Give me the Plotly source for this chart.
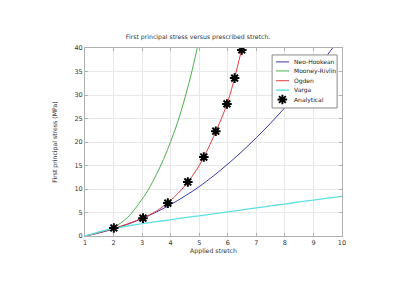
import plotly.graph_objects as go

# Stretch values for model curves
stretch = [1, 1.5, 2, 2.5, 3, 3.5, 4, 4.5, 5, 5.5, 6, 6.5, 7, 7.5, 8, 8.5, 9, 9.5, 10]
neo_hookean = [0, 0.66, 1.5, 2.5, 3.7, 5.1, 6.7, 8.5, 10.5, 12.8, 15.3, 18.0, 20.9, 24.0, 27.3, 30.8, 34.6, 38.6, 42.8]
varga = [0, 0.9, 1.6, 2.15, 2.65, 3.05, 3.45, 3.9, 4.3, 4.7, 5.15, 5.55, 6.0, 6.4, 6.8, 7.25, 7.65, 8.05, 8.5]

mr_stretch = [1, 1.5, 2, 2.5, 3, 3.25, 3.5, 3.75, 4, 4.25, 4.5, 4.75, 5]
mooney_rivlin = [0, 0.8, 1.85, 4.0, 7.85, 10.2, 13.1, 16.3, 20.1, 24.3, 29.4, 35.2, 42.0]

og_stretch = [1, 1.5, 2, 2.5, 3, 3.5, 4, 4.5, 5, 5.5, 6, 6.5, 6.7]
ogden = [0, 0.7, 1.6, 2.6, 3.8, 5.3, 7.6, 10.7, 15.0, 21.1, 28.6, 40.0, 45.0]

an_stretch = [2.01, 3.03, 3.9, 4.6, 5.16, 5.58, 5.97, 6.24, 6.49]
analytical = [1.7, 3.8, 7.0, 11.5, 16.8, 22.3, 28.1, 33.6, 39.6]

x_ticks = [1, 2, 3, 4, 5, 6, 7, 8, 9, 10]
y_ticks = [0, 5, 10, 15, 20, 25, 30, 35, 40]

legend_names = ["Neo-Hookean", "Mooney-Rivlin", "Ogden", "Varga", "Analytical"]
colors = {"Neo-Hookean": "#3a3aa8", "Mooney-Rivlin": "#4caf50", "Ogden": "#e04040", "Varga": "#5ee0e0"}
widths = {"Neo-Hookean": 1, "Mooney-Rivlin": 1, "Ogden": 1, "Varga": 1.4}

asterisk = dict(symbol="asterisk-open", size=8, color="black", line=dict(color="black", width=2))

fig = go.Figure()
fig.add_trace(go.Scatter(x=stretch, y=neo_hookean, mode="lines", name="Neo-Hookean",
                         line=dict(color=colors["Neo-Hookean"], width=1, shape="spline")))
fig.add_trace(go.Scatter(x=mr_stretch, y=mooney_rivlin, mode="lines", name="Mooney-Rivlin",
                         line=dict(color=colors["Mooney-Rivlin"], width=1, shape="spline")))
fig.add_trace(go.Scatter(x=og_stretch, y=ogden, mode="lines", name="Ogden",
                         line=dict(color=colors["Ogden"], width=1, shape="spline")))
fig.add_trace(go.Scatter(x=stretch, y=varga, mode="lines", name="Varga",
                         line=dict(color=colors["Varga"], width=1.3, shape="spline")))
fig.add_trace(go.Scatter(x=an_stretch, y=analytical, mode="markers", name="Analytical",
                         marker=asterisk))

# Compact legend drawn on an overlay axis spanning the plot area (0..1)
lx0, lx1 = 0.728, 0.981
ly1, ly0 = 0.963, 0.681
row_y = [0.926, 0.878, 0.826, 0.776, 0.726]
fig.add_trace(go.Scatter(x=[lx0, lx1, lx1, lx0, lx0], y=[ly0, ly0, ly1, ly1, ly0],
                         mode="lines", fill="toself", fillcolor="white",
                         line=dict(color="#8a8a8a", width=1), xaxis="x2", yaxis="y2",
                         hoverinfo="skip", showlegend=False))
for name, yy in zip(legend_names, row_y):
    if name in colors:
        fig.add_trace(go.Scatter(x=[0.743, 0.794], y=[yy, yy], mode="lines", xaxis="x2", yaxis="y2",
                                 line=dict(color=colors[name], width=widths[name]),
                                 hoverinfo="skip", showlegend=False))
    else:
        fig.add_trace(go.Scatter(x=[0.768], y=[yy], mode="markers", xaxis="x2", yaxis="y2",
                                 marker=asterisk, hoverinfo="skip", showlegend=False))
    fig.add_annotation(x=0.805, y=yy, xref="paper", yref="paper", text=name, showarrow=False,
                       xanchor="left", yanchor="middle", font=dict(size=6, color="#222222"))

axis_common = dict(showgrid=True, gridcolor="#e8e8e8", gridwidth=1,
                   showline=True, linecolor="#b0b0b0", linewidth=1, mirror="ticks",
                   ticks="inside", ticklen=3, tickcolor="#b0b0b0", zeroline=False,
                   tickfont=dict(size=6.5, color="#333333"))

fig.update_layout(
    width=420, height=290,
    margin=dict(l=85, r=78, t=48, b=54),
    paper_bgcolor="white", plot_bgcolor="white",
    font=dict(family="DejaVu Sans", size=6, color="#333333"),
    showlegend=False,
    title=dict(text="First principal stress versus prescribed stretch.",
               x=0.44, xref="paper", xanchor="center", y=0.872, yanchor="middle",
               font=dict(size=6.2, color="#333333")),
    xaxis=dict(range=[1, 10], tickvals=x_ticks,
               title=dict(text="Applied stretch", standoff=0, font=dict(size=6.2)),
               **axis_common),
    yaxis=dict(range=[0, 40], tickvals=y_ticks,
               title=dict(text="First principal stress (MPa)", standoff=16, font=dict(size=6.2)),
               **axis_common),
    xaxis2=dict(overlaying="x", range=[0, 1], visible=False, fixedrange=True),
    yaxis2=dict(overlaying="y", range=[0, 1], visible=False, fixedrange=True),
)

fig.write_html("out.html")
